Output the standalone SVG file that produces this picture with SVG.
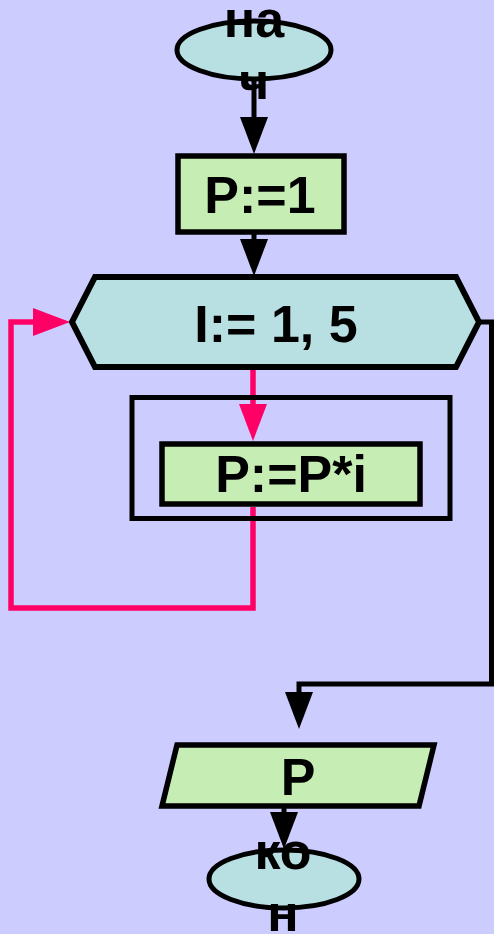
<svg xmlns="http://www.w3.org/2000/svg" width="494" height="934" viewBox="0 0 494 934">
  <defs>
    <style>
      .lbl { font-family: "Liberation Sans", Arial, sans-serif; font-weight: bold; font-size: 52px; fill: #000; text-anchor: middle; }
      .term { fill: #B8E0E2; stroke: #000; stroke-width: 5; }
      .proc { fill: #C6EDB4; stroke: #000; stroke-width: 5.5; }
      .loop { fill: #B8E0E2; stroke: #000; stroke-width: 6; stroke-linejoin: miter; }
      .frame { fill: none; stroke: #000; stroke-width: 5; }
      .conn { fill: none; stroke: #000; stroke-width: 5; }
      .back { fill: none; stroke: #FF0066; stroke-width: 5.5; }
    </style>
    <marker id="ah" markerUnits="userSpaceOnUse" markerWidth="38" markerHeight="28" refX="0" refY="14" orient="auto" overflow="visible">
      <path d="M0,0 L37,14 L0,28 Z" fill="#000"/>
    </marker>
    <marker id="ahp" markerUnits="userSpaceOnUse" markerWidth="38" markerHeight="28" refX="0" refY="14" orient="auto" overflow="visible">
      <path d="M0,0 L37,14 L0,28 Z" fill="#FF0066"/>
    </marker>
  </defs>
  <rect x="0" y="0" width="494" height="934" fill="#CCCCFF"/>

  <g id="connectors">
    <path class="conn" d="M254,80 V117" marker-end="url(#ah)"/>
    <path class="conn" d="M254,234 V239" marker-end="url(#ah)"/>
    <path class="conn" d="M479,322 H491.5 V684 H299 V692" marker-end="url(#ah)"/>
    <path class="conn" d="M284,808 V812" marker-end="url(#ah)"/>
    <path class="back" d="M253,367 V404" marker-end="url(#ahp)"/>
    <path class="back" d="M253,507 V608 H11 V322 H33" marker-end="url(#ahp)"/>
  </g>

  <g id="start">
    <ellipse class="term" cx="254" cy="50" rx="77" ry="29"/>
    <text class="lbl" x="254" y="37">на</text>
    <text class="lbl" x="254" y="99">ч</text>
  </g>

  <g id="init">
    <rect class="proc" x="178" y="156" width="166" height="76"/>
    <text class="lbl" x="260" y="213">P:=1</text>
  </g>

  <g id="loop">
    <polygon class="loop" points="95,277 456,277 479,322 456,367 95,367 72,322"/>
    <text class="lbl" x="276" y="342">I:= 1, 5</text>
  </g>

  <g id="body">
    <rect class="frame" x="132" y="397.5" width="318" height="121"/>
    <rect class="proc" x="162" y="444" width="258" height="60"/>
    <text class="lbl" x="291" y="492">P:=P*i</text>
  </g>

  <g id="output">
    <polygon class="proc" points="177,745 434,745 419,806 162,806"/>
    <text class="lbl" x="298" y="795">P</text>
  </g>

  <g id="end">
    <ellipse class="term" cx="284" cy="879" rx="75" ry="29"/>
    <text class="lbl" x="283" y="869">ко</text>
    <text class="lbl" x="283" y="931">н</text>
  </g>
</svg>
